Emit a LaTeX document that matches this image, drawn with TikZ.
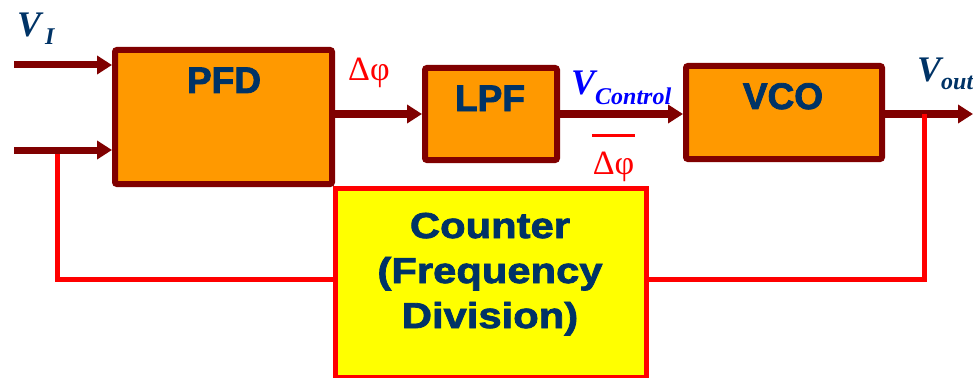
\documentclass[tikz,border=0pt]{standalone}
\usepackage{fontspec}
\usetikzlibrary{arrows.meta}
\setmainfont{Liberation Serif}
\newfontfamily\blockfont{Liberation Sans}[BoldFeatures={FakeBold=2.2}]
\newfontfamily\widefont{Liberation Sans}[FakeStretch=1.16,BoldFeatures={FakeBold=2.2}]

\definecolor{wire}{HTML}{800000}
\definecolor{blockfill}{HTML}{FF9900}
\definecolor{ink}{HTML}{003366}
\definecolor{loopred}{HTML}{FF0000}
\definecolor{ctrfill}{HTML}{FFFF00}
\definecolor{ctlblue}{HTML}{0000FF}

\tikzset{
  block/.style={draw=wire, line width=6pt, fill=blockfill, rounded corners=2pt,
    inner sep=0pt, outer sep=3pt},
  ctrbox/.style={draw=loopred, line width=5pt, fill=ctrfill, inner sep=0pt, outer sep=2.5pt},
  blocklabel/.style={anchor=base, inner sep=0pt, text=ink,
    font=\blockfont\bfseries\fontsize{37}{40}\selectfont},
  sig/.style={draw=wire, line width=7pt, -{Triangle[length=15pt,width=18pt]}},
  fb/.style={draw=loopred, line width=5pt},
  vlabel/.style={anchor=base west, inner sep=0pt, text=ink,
    font=\bfseries\itshape\fontsize{36}{40}\selectfont},
  phlabel/.style={inner sep=0pt, text=loopred, font=\fontsize{34}{36}\selectfont},
}

\newcommand{\lowsub}[2]{\raisebox{-#1}{\fontsize{24}{26}\selectfont #2}}

\begin{document}
\begin{tikzpicture}[x=1pt,y=-1pt]
  \useasboundingbox (0,0) rectangle (973,377);

  % blocks
  \node[block, minimum width=217pt, minimum height=134pt] (pfd) at (223.5,117) {};
  \node[block, minimum width=132pt, minimum height=92pt]  (lpf) at (491,114) {};
  \node[block, minimum width=196pt, minimum height=93pt]  (vco) at (784,112.5) {};

  % coordinates of the wires
  \coordinate (in1) at (14,65);
  \coordinate (in2) at (14,150);
  \coordinate (fbL) at (57,150);
  \coordinate (tap) at (924,114);
  \coordinate (out) at (973,114);

  % feedback into the second input (under the input wire)
  \draw[fb] (fbL) |- (335,279);

  % inputs
  \draw[sig] (in1) -- (in1 -| pfd.west);
  \draw[sig] (in2) -- (in2 -| pfd.west);

  % forward path
  \draw[sig] (pfd.east |- lpf.west) -- (lpf.west);
  \draw[sig] (lpf.east) -- (vco.west |- lpf.east);
  \draw[sig] (vco.east |- out) -- (out);

  % counter block
  \node[ctrbox, minimum width=311pt, minimum height=189pt] (ctr) at (491,282.5) {};
  \draw[fb] (ctr.west |- 0,279) -- (335,279);
  \draw[fb] (tap) |- (ctr.east |- 0,279);

  % block texts
  \node[blocklabel] (pfdtxt) at (224,93) {PFD};
  \node[blocklabel] (lpftxt) at (490,111) {LPF};
  \node[blocklabel] (vcotxt) at (783,109) {VCO};
  \node[anchor=base, inner sep=0pt, text=ink, align=center,
        font=\widefont\bfseries\fontsize{36}{45}\selectfont] (ctrtxt) at (490,328)
        {Counter\\(Frequency\\Division)};

  % signal names
  \node[vlabel] (vi) at (17,37) {V\lowsub{8pt}{\,I}};
  \node[vlabel] (vout) at (917,82) {V\lowsub{8pt}{out}};
  \node[vlabel, text=ctlblue] (vctl) at (571,95) {V\lowsub{10pt}{Control}};
  \node[phlabel, anchor=base west] (dphi) at (348,81) {Δφ};
  \node[phlabel, anchor=base, align=center] (dphibar) at (613.5,174)
        {\rule{43pt}{3.5pt}\\[1pt]Δφ};
\end{tikzpicture}
\end{document}
